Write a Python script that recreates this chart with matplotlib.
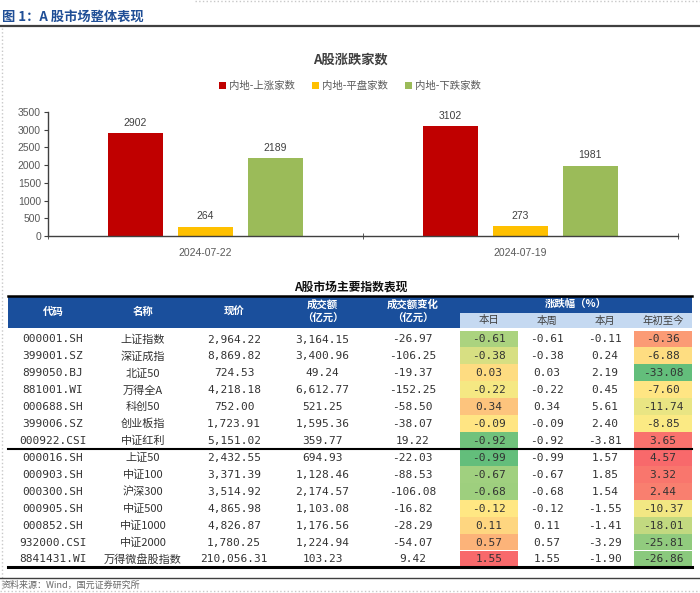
import numpy as np
import matplotlib.pyplot as plt
from matplotlib.patches import Rectangle

plt.rcParams['font.family'] = ['Noto Sans CJK SC', 'DejaVu Sans']

# bar chart data
dates = ["2024-07-22", "2024-07-19"]
up_counts = [2902, 3102]
flat_counts = [264, 273]
down_counts = [2189, 1981]
series_names = ["内地-上涨家数", "内地-平盘家数", "内地-下跌家数"]
series_colors = ["#C00000", "#FFC000", "#9BBB59"]

# table data
codes = ["000001.SH", "399001.SZ", "899050.BJ", "881001.WI", "000688.SH", "399006.SZ", "000922.CSI",
         "000016.SH", "000903.SH", "000300.SH", "000905.SH", "000852.SH", "932000.CSI", "8841431.WI"]
names = ["上证指数", "深证成指", "北证50", "万得全A", "科创50", "创业板指", "中证红利",
         "上证50", "中证100", "沪深300", "中证500", "中证1000", "中证2000", "万得微盘股指数"]
price = [2964.22, 8869.82, 724.53, 4218.18, 752.00, 1723.91, 5151.02,
         2432.55, 3371.39, 3514.92, 4865.98, 4826.87, 1780.25, 210056.31]
turnover = [3164.15, 3400.96, 49.24, 6612.77, 521.25, 1595.36, 359.77,
            694.93, 1128.46, 2174.57, 1103.08, 1176.56, 1224.94, 103.23]
turnover_chg = [-26.97, -106.25, -19.37, -152.25, -58.50, -38.07, 19.22,
                -22.03, -88.53, -106.08, -16.82, -28.29, -54.07, 9.42]
chg_day = [-0.61, -0.38, 0.03, -0.22, 0.34, -0.09, -0.92,
           -0.99, -0.67, -0.68, -0.12, 0.11, 0.57, 1.55]
chg_week = [-0.61, -0.38, 0.03, -0.22, 0.34, -0.09, -0.92,
            -0.99, -0.67, -0.68, -0.12, 0.11, 0.57, 1.55]
chg_month = [-0.11, 0.24, 2.19, 0.45, 5.61, 2.40, -3.81,
             1.57, 1.85, 1.54, -1.55, -1.41, -3.29, -1.90]
chg_ytd = [-0.36, -6.88, -33.08, -7.60, -11.74, -8.85, 3.65,
           4.57, 3.32, 2.44, -10.37, -18.01, -25.81, -26.86]


def scale_colors(vals):
    # excel style 3 colour scale: green (min) - yellow (median) - red (max)
    v = np.array(vals, dtype=float)
    lo, mid, hi = v.min(), np.median(v), v.max()
    g = np.array([99, 190, 123]); y = np.array([255, 235, 132]); r = np.array([248, 105, 107])
    out = []
    for x in v:
        if x <= mid:
            t = (x - lo) / (mid - lo)
            c = g + t * (y - g)
        else:
            t = (x - mid) / (hi - mid)
            c = y + t * (r - y)
        out.append(tuple(c / 255))
    return out


W, H = 700, 593
fig = plt.figure(figsize=(W / 100, H / 100), dpi=100)

# overlay in pixel coords for titles / table
tab = fig.add_axes([0, 0, 1, 1])
tab.set_xlim(0, W)
tab.set_ylim(H, 0)
tab.axis('off')

# page frame (dotted)
tab.plot([195, 700], [1, 1], color="#C8C8C8", lw=1, ls=":")
tab.plot([1.5, 1.5], [28, 591], color="#C8C8C8", lw=1, ls=":")
tab.plot([0, 700], [591, 591], color="#C8C8C8", lw=1, ls=":")

tab.text(2, 17, "图 1：A 股市场整体表现", fontsize=9.5, fontweight="bold", color="#1F4E96",
         va="center", ha="left")
tab.plot([0, 700], [26, 26], color="#404040", lw=1.6)

tab.text(350, 60, "A股涨跌家数", fontsize=9.5, fontweight="bold", color="#404040",
         ha="center", va="center")

# ---- bar chart ----
ax = fig.add_axes([48 / W, (H - 236) / H, 630 / W, 124 / H])
x = np.arange(len(dates))
bw = 0.175
off = 0.222
for i, (vals, nm, col) in enumerate(zip([up_counts, flat_counts, down_counts], series_names, series_colors)):
    bars = ax.bar(x + (i - 1) * off, vals, width=bw, color=col, label=nm)
    ax.bar_label(bars, padding=4, fontsize=7.5, color="#404040", family=['Liberation Sans', 'DejaVu Sans'])

ax.set_xlim(-0.5, 1.5)
ax.set_ylim(0, 3500)
ax.set_yticks(np.arange(0, 3501, 500))
ax.set_xticks(x)
ax.set_xticklabels(dates)
ax.set_xticks([-0.5, 0.5, 1.5], minor=True)
ax.tick_params(axis='x', which='major', length=0, pad=9)
ax.tick_params(axis='x', which='minor', length=4, direction='inout', color="#404040")
ax.tick_params(axis='y', length=3, color="#404040", pad=2)
for lab in ax.get_xticklabels() + ax.get_yticklabels():
    lab.set_fontsize(7.5)
    lab.set_color("#595959")
    lab.set_family(['Liberation Sans', 'DejaVu Sans'])
for s in ['top', 'right']:
    ax.spines[s].set_visible(False)
for s in ['left', 'bottom']:
    ax.spines[s].set_color("#404040")
    ax.spines[s].set_linewidth(1)

leg = fig.legend(loc="center", bbox_to_anchor=(0.5, 1 - 86 / H), ncol=3, frameon=False,
                 fontsize=7.5, handlelength=0.7, handleheight=0.7, handletextpad=0.3,
                 columnspacing=1.6, labelcolor="#595959")

# ---- table ----
tab.text(351, 287, "A股市场主要指数表现", fontsize=8.5, fontweight="bold", color="#111111",
         ha="center", va="center")

edges = [8, 98, 188, 280, 365, 460, 518, 576, 634, 692]
centers = [(edges[i] + edges[i + 1]) / 2 for i in range(len(edges) - 1)]
hdr_blue = "#1A4F9C"
sub_blue = "#C5D9F1"

tab.add_patch(Rectangle((8, 296), 684, 32, color=hdr_blue, lw=0))
tab.add_patch(Rectangle((460, 312.5), 232, 15.5, color=sub_blue, lw=0))
tab.plot([8, 692], [295.5, 295.5], color="black", lw=1.8)

hdr_kw = dict(fontsize=7.5, fontweight="bold", color="white", ha="center", va="center")
tab.text(centers[0], 312, "代码", **hdr_kw)
tab.text(centers[1], 312, "名称", **hdr_kw)
tab.text(centers[2], 312, "现价", **hdr_kw)
tab.text(centers[3], 305, "成交额", **hdr_kw)
tab.text(centers[3], 319, "（亿元）", **hdr_kw)
tab.text(centers[4], 305, "成交额变化", **hdr_kw)
tab.text(centers[4], 319, "（亿元）", **hdr_kw)
tab.text(576, 303.5, "涨跌幅（%）", **hdr_kw)
for c, t in zip(centers[5:], ["本日", "本周", "本月", "年初至今"]):
    tab.text(c, 320.5, t, fontsize=7.5, color="#404040", ha="center", va="center")

row_h = 16.92
y0 = 339.0
day_cols = scale_colors(chg_day)
ytd_cols = scale_colors(chg_ytd)
num_font = ['DejaVu Sans Mono', 'Noto Sans CJK SC']
txt_col = "#333333"
for i in range(len(codes)):
    yc = y0 + i * row_h
    tab.add_patch(Rectangle((edges[5], yc - row_h / 2), edges[6] - edges[5], row_h, color=day_cols[i], lw=0))
    tab.add_patch(Rectangle((edges[8], yc - row_h / 2), edges[9] - edges[8], row_h, color=ytd_cols[i], lw=0))
    cells = [codes[i], names[i], f"{price[i]:,.2f}", f"{turnover[i]:,.2f}", f"{turnover_chg[i]:,.2f}",
             f"{chg_day[i]:.2f}", f"{chg_week[i]:.2f}", f"{chg_month[i]:.2f}", f"{chg_ytd[i]:.2f}"]
    for j, t in enumerate(cells):
        fam = ['Noto Sans CJK SC', 'DejaVu Sans'] if j == 1 else num_font
        tab.text(centers[j], yc + 0.5, t, fontsize=8, color=txt_col, ha="center", va="center", family=fam)

sep_y = y0 + 6.5 * row_h
tab.plot([8, 692], [sep_y, sep_y], color="black", lw=1.5)
bot_y = y0 + 13.5 * row_h
tab.plot([8, 692], [bot_y, bot_y], color="black", lw=2.2)
tab.plot([0, 700], [578, 578], color="#404040", lw=1)

tab.text(2, 585.5, "资料来源：Wind，国元证券研究所", fontsize=6.5, color="#666666", ha="left", va="center")

fig.savefig("out.png", dpi=100)
